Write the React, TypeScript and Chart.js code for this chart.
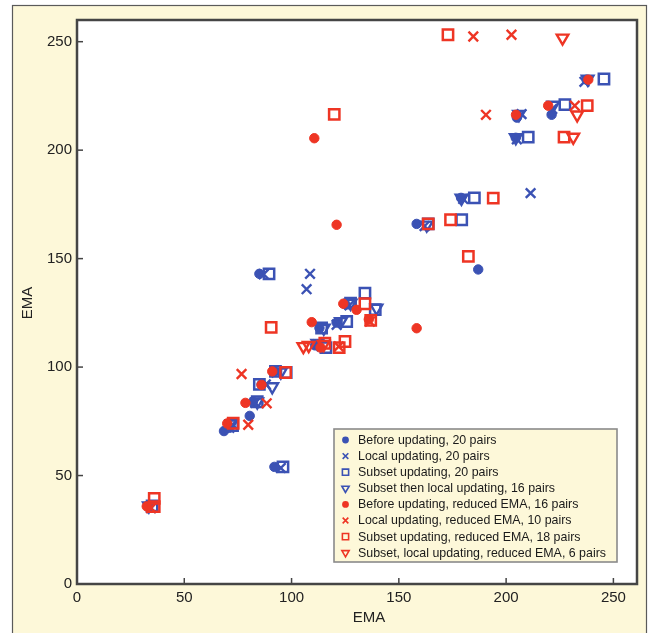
import React, { useEffect, useRef } from 'react';
import { Chart, registerables } from 'chart.js';
import { drawPoint } from 'chart.js/helpers';

Chart.register(...registerables);

// ---- data ----
const xTickValues = [0, 50, 100, 150, 200, 250];
const yTickValues = [0, 50, 100, 150, 200, 250];
const axisTitleX = 'EMA';
const axisTitleY = 'EMA';

const seriesLabels = [
  'Before updating, 20 pairs',
  'Local updating, 20 pairs',
  'Subset updating, 20 pairs',
  'Subset then local updating, 16 pairs',
  'Before updating, reduced EMA, 16 pairs',
  'Local updating, reduced EMA, 10 pairs',
  'Subset updating, reduced EMA, 18 pairs',
  'Subset, local updating, reduced EMA, 6 pairs',
];

const beforeX = [33, 68.5, 71, 80.5, 86, 92, 85, 92, 111, 121, 125, 158.3, 187, 179, 204.5, 205, 221.2, 237.5, 82, 113];
const beforeY = [36, 70.5, 72, 77.5, 92, 54, 143, 98, 110, 120.5, 129, 166, 145, 178, 205.7, 215, 216.3, 232.5, 84, 118];

const localX = [34.5, 71, 72.5, 83, 88, 93, 95, 87, 108.6, 107, 112, 121, 127, 162, 180, 205, 207.2, 211.4, 221.5, 236.5];
const localY = [35, 72, 73.5, 83.5, 92, 97.5, 53.5, 142.8, 143, 135.9, 110.5, 119.5, 128.5, 165, 177.5, 205, 216.6, 180.2, 219, 231.5];

const subsetX = [35, 72.5, 84, 85, 92.5, 96, 89.5, 116, 114, 125.7, 134.2, 127.5, 163.7, 179.3, 185.2, 210.3, 227.4, 245.6, 97.5, 139];
const subsetY = [36, 73, 84, 92, 98, 54, 143, 109, 118, 121, 134.1, 129.5, 166, 167.9, 178, 206, 221, 232.8, 97.5, 126.5];

const subsetLocalX = [33.5, 72, 84, 91, 95, 112, 115, 123, 127.5, 139.6, 163, 179.2, 204.5, 206, 222, 238];
const subsetLocalY = [36, 74, 84, 91, 97.8, 111, 118, 121, 129.5, 127.2, 165.5, 177.9, 205.8, 216.5, 220.8, 232.8];

const redBeforeX = [32.5, 70, 78.5, 86, 91, 110.6, 109.4, 121, 124.1, 130.3, 113.5, 158.3, 204.6, 219.6, 238.3, 136];
const redBeforeY = [35.8, 74, 83.5, 91.8, 98, 205.5, 120.7, 165.6, 129.2, 126.4, 109, 117.9, 216.3, 220.5, 232.5, 122];

const redLocalX = [34.5, 76.7, 79.8, 88.4, 122, 184.7, 202.5, 190.6, 232, 136.5];
const redLocalY = [35, 96.8, 73.4, 83.3, 109.5, 252.4, 253.2, 216.3, 220.5, 121];

const redSubsetX = [36, 36, 72.8, 97.2, 90.5, 119.9, 124.9, 122.2, 115.5, 134.2, 136.9, 163.7, 174.1, 182.4, 194, 172.9, 227, 237.8];
const redSubsetY = [39.5, 35.7, 74.1, 97.5, 118.3, 216.5, 111.8, 109, 111, 129.2, 121.5, 166, 167.9, 151, 177.9, 253.2, 206, 220.5];

const redSubsetLocalX = [105.5, 108, 115, 226.3, 233.1, 231.3];
const redSubsetLocalY = [109.5, 110, 110.5, 251.7, 216.3, 206];

// ---- styles ----
const BLUE = '#3b52b4';
const RED = '#ee3524';
const CREAM = '#fdf8d9';
const FONT = '"Liberation Sans", Arial, sans-serif';
const TEXT = '#222222';

const seriesXs = [beforeX, localX, subsetX, subsetLocalX, redBeforeX, redLocalX, redSubsetX, redSubsetLocalX];
const seriesYs = [beforeY, localY, subsetY, subsetLocalY, redBeforeY, redLocalY, redSubsetY, redSubsetLocalY];

type MarkerStyle = { pointStyle: string; radius: number; rotation: number; borderWidth: number; filled: boolean; lr: number; lw: number };
const markers: MarkerStyle[] = [
  { pointStyle: 'circle', radius: 4.7, rotation: 0, borderWidth: 1, filled: true, lr: 2.6, lw: 1 },
  { pointStyle: 'crossRot', radius: 6.8, rotation: 0, borderWidth: 2.4, filled: false, lr: 4, lw: 1.5 },
  { pointStyle: 'rect', radius: 7.3, rotation: 0, borderWidth: 2.5, filled: false, lr: 4.4, lw: 1.5 },
  { pointStyle: 'triangle', radius: 6.7, rotation: 180, borderWidth: 2.4, filled: false, lr: 4.2, lw: 1.5 },
];

function buildDatasets() {
  return seriesLabels.map((label, i) => {
    const color = i < 4 ? BLUE : RED;
    const m = markers[i % 4];
    return {
      label,
      data: seriesXs[i].map((x, k) => ({ x, y: seriesYs[i][k] })),
      pointStyle: m.pointStyle as any,
      pointRadius: m.radius,
      pointRotation: m.rotation,
      pointBorderWidth: m.borderWidth,
      pointBorderColor: color,
      pointBackgroundColor: m.filled ? color : 'rgba(0,0,0,0)',
      showLine: false,
      order: 8 - i,
    };
  });
}

const framePlugin = {
  id: 'frame',
  beforeDraw(chart: any) {
    const ctx = chart.ctx as CanvasRenderingContext2D;
    const { left, top, right, bottom } = chart.chartArea;
    ctx.save();
    ctx.fillStyle = '#ffffff';
    ctx.fillRect(0, 0, chart.width, chart.height);
    ctx.fillStyle = CREAM;
    ctx.fillRect(12, 5, chart.width - 15, chart.height + 10);
    ctx.strokeStyle = '#5a5a5a';
    ctx.lineWidth = 1.2;
    ctx.strokeRect(12.5, 5.5, chart.width - 16, chart.height + 10);
    ctx.fillStyle = '#ffffff';
    ctx.fillRect(left, top, right - left, bottom - top);
    ctx.restore();
  },
  afterDraw(chart: any) {
    const ctx = chart.ctx as CanvasRenderingContext2D;
    const { left, top, right, bottom } = chart.chartArea;
    const xs = chart.scales.x;
    const ys = chart.scales.y;
    ctx.save();
    // ticks (inward)
    ctx.strokeStyle = '#444';
    ctx.lineWidth = 1.5;
    xs.ticks.forEach((t: any) => {
      const px = xs.getPixelForValue(t.value);
      ctx.beginPath();
      ctx.moveTo(px, bottom);
      ctx.lineTo(px, bottom - 6);
      ctx.stroke();
    });
    ys.ticks.forEach((t: any) => {
      const py = ys.getPixelForValue(t.value);
      ctx.beginPath();
      ctx.moveTo(left, py);
      ctx.lineTo(left + 6, py);
      ctx.stroke();
    });
    // plot frame
    ctx.strokeStyle = '#454545';
    ctx.lineWidth = 2.5;
    ctx.strokeRect(left, top, right - left, bottom - top);

    // axis titles
    ctx.fillStyle = TEXT;
    ctx.font = `15px ${FONT}`;
    ctx.textAlign = 'center';
    ctx.textBaseline = 'middle';
    ctx.fillText(axisTitleX, left + 292, bottom + 34);
    ctx.save();
    ctx.translate(28, (top + bottom) / 2 + 1);
    ctx.rotate(-Math.PI / 2);
    ctx.fillText(axisTitleY, 0, 0);
    ctx.restore();

    // legend
    const bx = right - 303;
    const by = bottom - 155;
    const bw = 283;
    const bh = 133;
    ctx.fillStyle = CREAM;
    ctx.fillRect(bx, by, bw, bh);
    ctx.strokeStyle = '#8a8a8a';
    ctx.lineWidth = 1.6;
    ctx.strokeRect(bx, by, bw, bh);
    ctx.font = `12.4px ${FONT}`;
    ctx.textAlign = 'left';
    ctx.textBaseline = 'middle';
    chart.data.datasets.forEach((ds: any, i: number) => {
      const cy = by + 11 + i * 16.1;
      const cx = bx + 11.5;
      const m = markers[i % 4];
      const color = i < 4 ? BLUE : RED;
      ctx.strokeStyle = color;
      ctx.fillStyle = m.filled ? color : 'rgba(0,0,0,0)';
      drawPoint(ctx, { pointStyle: m.pointStyle as any, radius: m.lr, rotation: m.rotation, borderWidth: m.lw } as any, cx, cy);
      ctx.fillStyle = '#1a1a1a';
      ctx.fillText(ds.label, bx + 24, cy + 0.5);
    });
    ctx.restore();
  },
};

export default function App() {
  const ref = useRef<HTMLCanvasElement>(null);
  useEffect(() => {
    document.body.style.margin = '0';
    const chart = new Chart(ref.current as HTMLCanvasElement, {
      type: 'scatter',
      data: { datasets: buildDatasets() as any },
      options: {
        animation: false,
        responsive: false,
        layout: { padding: { left: 0, right: 13, top: 20, bottom: 0 } },
        plugins: { legend: { display: false }, tooltip: { enabled: false } },
        scales: {
          x: {
            type: 'linear',
            min: 0,
            max: 261,
            afterBuildTicks: (s: any) => {
              s.ticks = xTickValues.map((v) => ({ value: v }));
            },
            afterFit: (s: any) => {
              s.height = 49;
            },
            grid: { display: false, drawTicks: false },
            border: { display: false },
            ticks: { padding: 5, color: TEXT, font: { family: FONT, size: 15 }, maxRotation: 0, autoSkip: false },
          },
          y: {
            type: 'linear',
            min: 0,
            max: 260,
            afterBuildTicks: (s: any) => {
              s.ticks = yTickValues.map((v) => ({ value: v }));
            },
            afterFit: (s: any) => {
              s.width = 77;
            },
            grid: { display: false, drawTicks: false },
            border: { display: false },
            ticks: { padding: 5, color: TEXT, font: { family: FONT, size: 15 }, autoSkip: false },
          },
        },
      },
      plugins: [framePlugin],
    });
    return () => chart.destroy();
  }, []);
  return (
    <div style={{ width: 650, height: 633 }}>
      <canvas ref={ref} width={650} height={633} style={{ display: 'block' }} />
    </div>
  );
}
